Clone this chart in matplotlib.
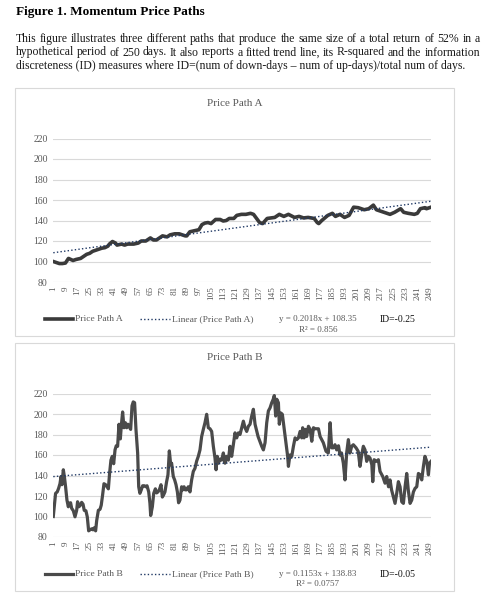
import matplotlib
matplotlib.use("Agg")
import matplotlib.pyplot as plt
from matplotlib.lines import Line2D
from matplotlib.patches import Rectangle

plt.rcParams['font.family'] = ['Liberation Serif', 'DejaVu Serif']

# data (day, price)
days_a = [1, 3, 5, 7, 9, 11, 14, 16, 19, 21, 23, 25, 27, 29, 31, 33, 35, 37, 38, 40,
          42, 43, 46, 48, 50, 54, 57, 59, 62, 65, 67, 69, 71, 73, 76, 78, 81, 84, 88, 89,
          91, 94, 97, 99, 101, 103, 105, 108, 111, 113, 115, 117, 120, 122, 125, 128, 131, 133, 135, 137,
          139, 142, 147, 150, 153, 156, 160, 163, 166, 169, 173, 175, 176, 178, 182, 185, 187, 190, 193, 196,
          199, 202, 206, 209, 212, 214, 217, 221, 223, 226, 230, 232, 235, 239, 241, 243, 246, 247, 250]
price_a = [100, 99, 98, 98, 98.5, 103, 101, 102, 103, 105, 107, 108, 110, 111, 112, 113, 113.5, 115, 117, 119.5,
           118, 116, 117, 116, 117, 117, 118, 120, 120, 123, 121, 121, 123, 125, 124, 126, 127, 127, 125, 125,
           129, 130, 131, 136, 137.5, 138, 137, 141, 141, 139.5, 140, 142, 142, 145, 146, 146, 147, 146, 142, 138,
           137, 142, 143, 146, 144, 146, 143, 144, 142.5, 143, 142, 138, 137, 140, 145, 147, 144, 146, 143, 145,
           153, 152.5, 150.5, 151.5, 155, 150.5, 149, 147, 146, 148, 151.5, 148, 147, 146, 147, 151.5, 152.5, 151.5, 153]

days_b = [1, 2.5, 3.6, 4.5, 5.4, 6.1, 6.7, 7.6, 8.3, 9.1, 10, 10.9, 11.5, 12.4, 13.1, 14.2, 15.3, 16.4, 17, 17.9,
          18.8, 19.7, 20.6, 21.4, 22.5, 23.4, 24.3, 25.2, 26.3, 27.2, 28, 28.9, 29.6, 30.7, 31.8, 32.6, 33.5, 34.4, 35.5, 36.4,
          37.3, 38.1, 39, 39.9, 40.8, 41.7, 42.5, 43.4, 44.3, 45.2, 45.8, 46.7, 47.6, 48.5, 49.4, 50.2, 51.1, 52, 52.9, 53.7,
          54.6, 55.5, 56.6, 57.3, 58.1, 59, 59.9, 61, 61.9, 62.8, 63.9, 64.7, 65.2, 66.3, 67.2, 68.3, 69.1, 70, 70.9, 72,
          72.9, 73.7, 74.6, 75.7, 76.6, 77.5, 78.4, 79, 80.1, 81, 81.9, 82.8, 83.6, 84.5, 85.6, 86.3, 87.2, 88, 88.9, 90,
          91.1, 92.2, 93.3, 94.4, 95.5, 96.6, 97.7, 98.8, 99.9, 101, 102.1, 103.2, 104.3, 105.4, 106.5, 107.6, 108.3, 109.1, 109.8, 110.9,
          112, 113.1, 114.2, 115.3, 116.4, 117.5, 118.6, 119.7, 120.8, 121.9, 123, 124.1, 125.2, 126.3, 127.4, 128.5, 129.6, 130.7, 131.8, 132.9,
          134, 136, 138.4, 139.5, 140.6, 141.7, 142.8, 143.9, 145, 146, 146.7, 147.6, 148.3, 149.4, 150, 151, 152, 153, 154.4, 155.5,
          156, 157, 158.2, 159.3, 160.4, 161.5, 162.6, 163.7, 164.8, 165.4, 166.3, 167.2, 168, 169.2, 170.3, 171.4, 172.5, 173.6, 175.8, 176.9,
          179, 180.8, 182.3, 183.5, 184.5, 185.6, 186.7, 187.8, 189, 190, 191, 192.2, 193.3, 194.4, 195.5, 196.6, 197.7, 198.8, 200.6, 202,
          203.2, 204.3, 205.4, 206.5, 207.6, 208.7, 209.8, 211, 211.6, 212.5, 214.2, 215.3, 216.4, 218.2, 219.7, 220.8, 222, 223, 224, 225.2,
          226.3, 227.4, 228.5, 229.6, 230.7, 231.8, 232.9, 234, 235, 236.2, 237.3, 238.4, 239.5, 240.6, 241.7, 242.8, 243.9, 245, 246, 247.2,
          248.3, 249, 250]
price_b = [100, 122.6, 124, 127.5, 132, 139, 131, 145.6, 139, 129, 116, 109.5, 113, 113.4, 108, 105.6, 99.7, 106, 114.4, 109.5,
           111, 113.8, 112, 106, 105.6, 99.7, 86, 87, 88, 87, 89, 86, 96, 106, 107, 111, 121, 132, 131, 129,
           127, 142, 155, 158.7, 151.5, 165, 169, 168.5, 190, 175.7, 188, 202, 186.6, 191.5, 186.6, 190, 187.5, 185, 208, 211.8,
           211, 185, 162, 129, 122.6, 126, 130, 130, 129, 130, 124, 113, 101, 109.5, 122.6, 127, 123, 124, 126, 131,
           119, 121, 124, 134, 140.7, 164, 150.5, 152, 139, 135.7, 131, 124, 113.4, 116, 129, 126, 129, 126, 126, 129,
           124, 135.7, 144, 147, 154, 158.7, 165, 178, 185, 191.5, 199.7, 186.6, 185.6, 183, 168.5, 157, 145.6, 158.7, 152, 156,
           155, 162, 152, 158.7, 155, 168.5, 158.7, 170, 181.6, 176.7, 181.6, 180, 186.6, 193, 186.6, 183, 188, 190, 198, 204.6,
           190, 178, 168.5, 165, 172, 191.5, 203, 206, 211, 214.4, 218, 198, 214.4, 211, 190, 201, 199.7, 188, 172, 158.7,
           148.9, 160, 158.7, 168.5, 176.7, 175, 176.7, 183, 176.7, 186.6, 176.7, 185, 178, 188, 185, 173.4, 186.6, 185.6, 185.6, 178,
           172, 163.6, 162, 191.5, 167, 167, 170, 165, 169, 160, 162, 152, 135.7, 162, 175, 162, 168.5, 170, 167, 163.6,
           148.9, 160, 168.5, 165, 153.8, 158.7, 157, 150.5, 134, 155.4, 153.8, 155.4, 144, 139, 132.5, 139, 129, 135.7, 126, 119,
           112.8, 122.6, 134, 129, 114.4, 112.8, 129, 142, 126, 112.8, 116, 124, 127.5, 129, 142, 140.7, 135.7, 148.9, 158.7, 153.8,
           140.7, 152, 153.8]

# fitted trend lines as reported in the chart
trend_a = (0.2018, 108.35)
trend_b = (0.1153, 138.83)
eq_a = ["y = 0.2018x + 108.35", "R² = 0.856"]
eq_b = ["y = 0.1153x + 138.83", "R² = 0.0757"]
id_a = "ID=-0.25"
id_b = "ID=-0.05"

y_ticks = [80, 100, 120, 140, 160, 180, 200, 220]
x_ticks = list(range(1, 251, 8))

W, H = 502, 606
GRAY = "#595959"
GRID = "#d9d9d9"
TREND = "#1f3864"

fig = plt.figure(figsize=(W / 100, H / 100), dpi=100)
renderer = fig.canvas.get_renderer()


def fx(px):
    return px / W


def fy(py):
    return 1 - py / H


# header text
fig.text(fx(16), fy(12), "Figure 1. Momentum Price Paths", fontsize=9.5, fontweight="bold",
         va="center", ha="left")
para = ["This figure illustrates three different paths that produce the same size of a total return of 52% in a",
        "hypothetical period of 250 days.  It also reports a fitted trend line, its R-squared and the information",
        "discreteness (ID) measures where ID=(num of down-days \u2013 num of up-days)/total num of days."]
left, right = 16, 480
for i, line in enumerate(para):
    y = fy(39 + i * 13.5)
    if i == len(para) - 1:
        fig.text(fx(left), y, line, fontsize=8.5, va="center", ha="left", color="#1a1a1a")
        continue
    # justified line: spread the words over the full text width
    words = line.split()
    arts = [fig.text(0, y, w, fontsize=8.5, va="center", ha="left", color="#1a1a1a") for w in words]
    widths = [a.get_window_extent(renderer).width for a in arts]
    gap = (right - left - sum(widths)) / (len(words) - 1)
    x = left
    for a, w in zip(arts, widths):
        a.set_x(fx(x))
        x += w + gap


def panel(top, name, days, price, trend, eq, id_txt, lw, color):
    # outer chart box
    fig.add_artist(Rectangle((fx(15), fy(top + 248)), fx(454) - fx(15), fy(top) - fy(top + 248),
                             transform=fig.transFigure, fill=False, edgecolor=GRID, lw=0.8))
    ax_top, ax_bot = top + 50.5, top + 194
    ax = fig.add_axes([fx(53.3), fy(ax_bot), fx(431) - fx(53.3), fy(ax_top) - fy(ax_bot)])
    ax.plot(days, price, color=color, lw=lw, solid_joinstyle="round", zorder=3)
    t = [d for d in range(1, 251)]
    ax.plot(t, [trend[0] * d + trend[1] for d in t], color=TREND, lw=1.0,
            linestyle=(0, (1, 1.6)), zorder=4)
    ax.set_xlim(1, 250)
    ax.set_ylim(80, 220)
    ax.set_yticks(y_ticks)
    ax.set_xticks(x_ticks)
    ax.set_xticklabels([str(v) for v in x_ticks], rotation=90, fontsize=6.6, color=GRAY)
    ax.set_yticklabels([str(v) for v in y_ticks], fontsize=7, color=GRAY)
    ax.tick_params(length=0, pad=4)
    ax.tick_params(axis="x", pad=3)
    ax.grid(axis="y", color=GRID, lw=0.8)
    ax.set_axisbelow(True)
    for s in ax.spines.values():
        s.set_visible(False)
    ax.set_facecolor("none")

    fig.text(fx(234.5), fy(top + 15), "Price Path " + name, fontsize=8, color=GRAY,
             ha="center", va="center")

    # legend row
    ly = top + 231
    fig.add_artist(Line2D([fx(45), fx(73)], [fy(ly), fy(ly)], color=color, lw=lw,
                          transform=fig.transFigure))
    fig.text(fx(75), fy(ly), "Price Path " + name, fontsize=6.8, color=GRAY, va="center")
    fig.add_artist(Line2D([fx(140), fx(170)], [fy(ly), fy(ly)], color=TREND, lw=1.0,
                          linestyle=(0, (1, 1.6)), transform=fig.transFigure))
    fig.text(fx(172), fy(ly), "Linear (Price Path " + name + ")", fontsize=6.8, color=GRAY, va="center")
    fig.text(fx(318), fy(ly), eq[0], fontsize=6.5, color=GRAY, ha="center", va="center")
    fig.text(fx(318), fy(ly + 10.5), eq[1], fontsize=6.5, color=GRAY, ha="center", va="center")
    fig.text(fx(380), fy(ly + 0.5), id_txt, fontsize=7, color="#111111", ha="left", va="center")


panel(88, "A", days_a, price_a, trend_a, eq_a, id_a, 2.6, "#3a3a3a")
panel(343, "B", days_b, price_b, trend_b, eq_b, id_b, 2.3, "#4a4a4a")

fig.savefig("out.png", dpi=100, facecolor="white")
